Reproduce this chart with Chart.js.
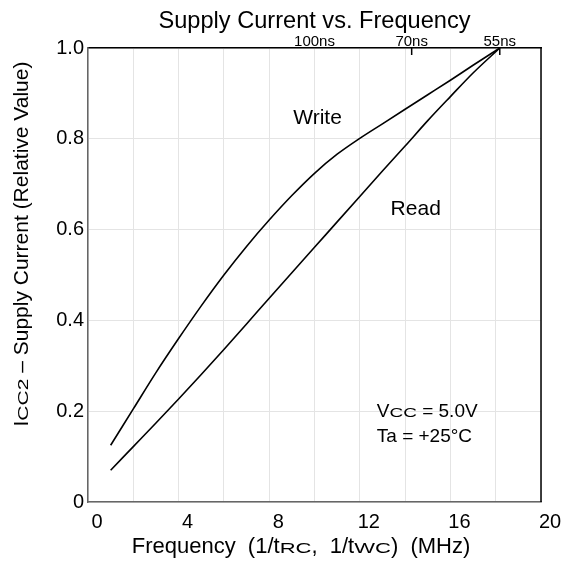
<!DOCTYPE html>
<html>
<head>
<meta charset="utf-8">
<script src="https://cdn.jsdelivr.net/npm/chart.js@4/dist/chart.umd.min.js"></script>
<style>
  body { margin: 0; background: #fff; }
</style>
</head>
<body>
<canvas id="supplyChart" width="561" height="572"></canvas>
<script>
// values
const freqMHz      = [1, 2, 3, 4, 5, 6, 7, 8, 9, 10, 11, 12, 13, 14, 15, 16, 17, 18.18];
const writeCurrent = [0.125, 0.205, 0.285, 0.36, 0.432, 0.5, 0.563, 0.621, 0.675, 0.724, 0.766, 0.801, 0.833, 0.865, 0.897, 0.929, 0.962, 1.0];
const readCurrent  = [0.07, 0.122, 0.174, 0.227, 0.281, 0.336, 0.392, 0.449, 0.505, 0.561, 0.617, 0.673, 0.729, 0.784, 0.84, 0.893, 0.945, 1.0];

// cycle time axis on top (1 / cycle time in MHz)
const cycleTimeLabels = ['100ns', '70ns', '55ns'];
const cycleTimeFreq   = [10, 14.29, 18.18];
const cycleTickMarks  = [14.29, 18.18];

const FONT = "'Liberation Sans', Arial, sans-serif";

const toPoints = (xs, ys) => xs.map((x, i) => ({ x: x, y: ys[i] }));

// draw a row of text pieces; a third value squashes the piece vertically (small caps look)
function drawRuns(ctx, runs, x, y, align) {
  let total = 0;
  runs.forEach(r => {
    ctx.font = r[1] + 'px ' + FONT;
    total += ctx.measureText(r[0]).width;
  });
  let cx = align === 'center' ? x - total / 2 : x;
  ctx.textAlign = 'left';
  ctx.textBaseline = 'alphabetic';
  runs.forEach(r => {
    ctx.font = r[1] + 'px ' + FONT;
    ctx.save();
    ctx.translate(cx, y);
    ctx.scale(1, r[2] || 1);
    ctx.fillText(r[0], 0, 0);
    ctx.restore();
    cx += ctx.measureText(r[0]).width;
  });
}

const notes = [
  { x: 9.06,  y: 0.8326, runs: [['Write', 21]] },
  { x: 13.36, y: 0.632,  runs: [['Read', 21]] },
  { x: 12.75, y: 0.1866, runs: [['V', 19], ['CC', 19, 0.68], [' = 5.0V', 19]] },
  { x: 12.75, y: 0.1315, runs: [['Ta = +25°C', 19]] }
];

const extrasPlugin = {
  id: 'extras',
  afterDraw(chart) {
    const ctx = chart.ctx;
    const area = chart.chartArea;
    const xs = chart.scales.x, ys = chart.scales.y, top = chart.scales.x2;
    ctx.save();

    // right border of the frame
    ctx.strokeStyle = '#000';
    ctx.lineWidth = 1.5;
    ctx.beginPath();
    ctx.moveTo(area.right, area.top);
    ctx.lineTo(area.right, area.bottom);
    ctx.stroke();

    // inward tick marks of the cycle-time axis
    cycleTickMarks.forEach(v => {
      const px = top.getPixelForValue(v);
      ctx.beginPath();
      ctx.moveTo(px, area.top);
      ctx.lineTo(px, area.top + 7);
      ctx.stroke();
    });

    ctx.fillStyle = '#000';
    drawRuns(ctx, [['Supply Current vs. Frequency', 23.6]], (area.left + area.right) / 2, 28, 'center');

    notes.forEach(n => {
      drawRuns(ctx, n.runs, xs.getPixelForValue(n.x), ys.getPixelForValue(n.y), 'left');
    });

    // axis titles
    drawRuns(ctx, [['Frequency  (1/t', 22], ['RC', 22, 0.68], [',  1/t', 22], ['WC', 22, 0.68], [')  (MHz)', 22]],
      301, 553, 'center');

    ctx.translate(28.3, 244);
    ctx.rotate(-Math.PI / 2);
    drawRuns(ctx, [['I', 21], ['CC2', 21, 0.7], [' \u2013 Supply Current (Relative Value)', 21]], 0, 0, 'center');

    ctx.restore();
  }
};

const ctx = document.getElementById('supplyChart');

new Chart(ctx, {
  type: 'line',
  data: {
    datasets: [
      {
        label: 'Write',
        data: toPoints(freqMHz, writeCurrent),
        borderColor: '#000',
        borderWidth: 1.6,
        pointRadius: 0,
        cubicInterpolationMode: 'monotone',
        fill: false
      },
      {
        label: 'Read',
        data: toPoints(freqMHz, readCurrent),
        borderColor: '#000',
        borderWidth: 1.6,
        pointRadius: 0,
        cubicInterpolationMode: 'monotone',
        fill: false
      }
    ]
  },
  options: {
    responsive: false,
    animation: false,
    layout: { padding: { left: 0, right: 20, top: 0, bottom: 0 } },
    plugins: {
      legend: { display: false },
      tooltip: { enabled: false },
      title: { display: false }
    },
    scales: {
      x: {
        type: 'linear',
        min: 0,
        max: 20,
        afterFit: s => { s.height = 70; },
        border: { color: '#666', width: 1.5 },
        grid: { color: '#e4e4e4', drawTicks: false },
        ticks: {
          stepSize: 2,
          padding: 8,
          labelOffset: 9,
          maxRotation: 0,
          color: '#000',
          font: { family: FONT, size: 20 },
          callback: v => (v % 4 === 0 ? String(v) : '')
        }
      },
      x2: {
        type: 'linear',
        position: 'top',
        min: 0,
        max: 20,
        afterFit: s => { s.height = 48; },
        afterBuildTicks: s => { s.ticks = cycleTimeFreq.map(v => ({ value: v })); },
        border: { color: '#000', width: 1.5 },
        grid: { display: false, drawTicks: false },
        ticks: {
          padding: -2.5,
          maxRotation: 0,
          autoSkip: false,
          color: '#000',
          font: { family: FONT, size: 15 },
          callback: (v, i) => cycleTimeLabels[i]
        }
      },
      y: {
        min: 0,
        max: 1,
        afterFit: s => { s.width = 88; },
        border: { color: '#666', width: 1.5 },
        grid: { color: '#e4e4e4', drawTicks: false },
        ticks: {
          stepSize: 0.2,
          padding: 4,
          color: '#000',
          font: { family: FONT, size: 20 },
          callback: v => (v === 0 ? '0' : v.toFixed(1))
        }
      }
    }
  },
  plugins: [extrasPlugin]
});
</script>
</body>
</html>
